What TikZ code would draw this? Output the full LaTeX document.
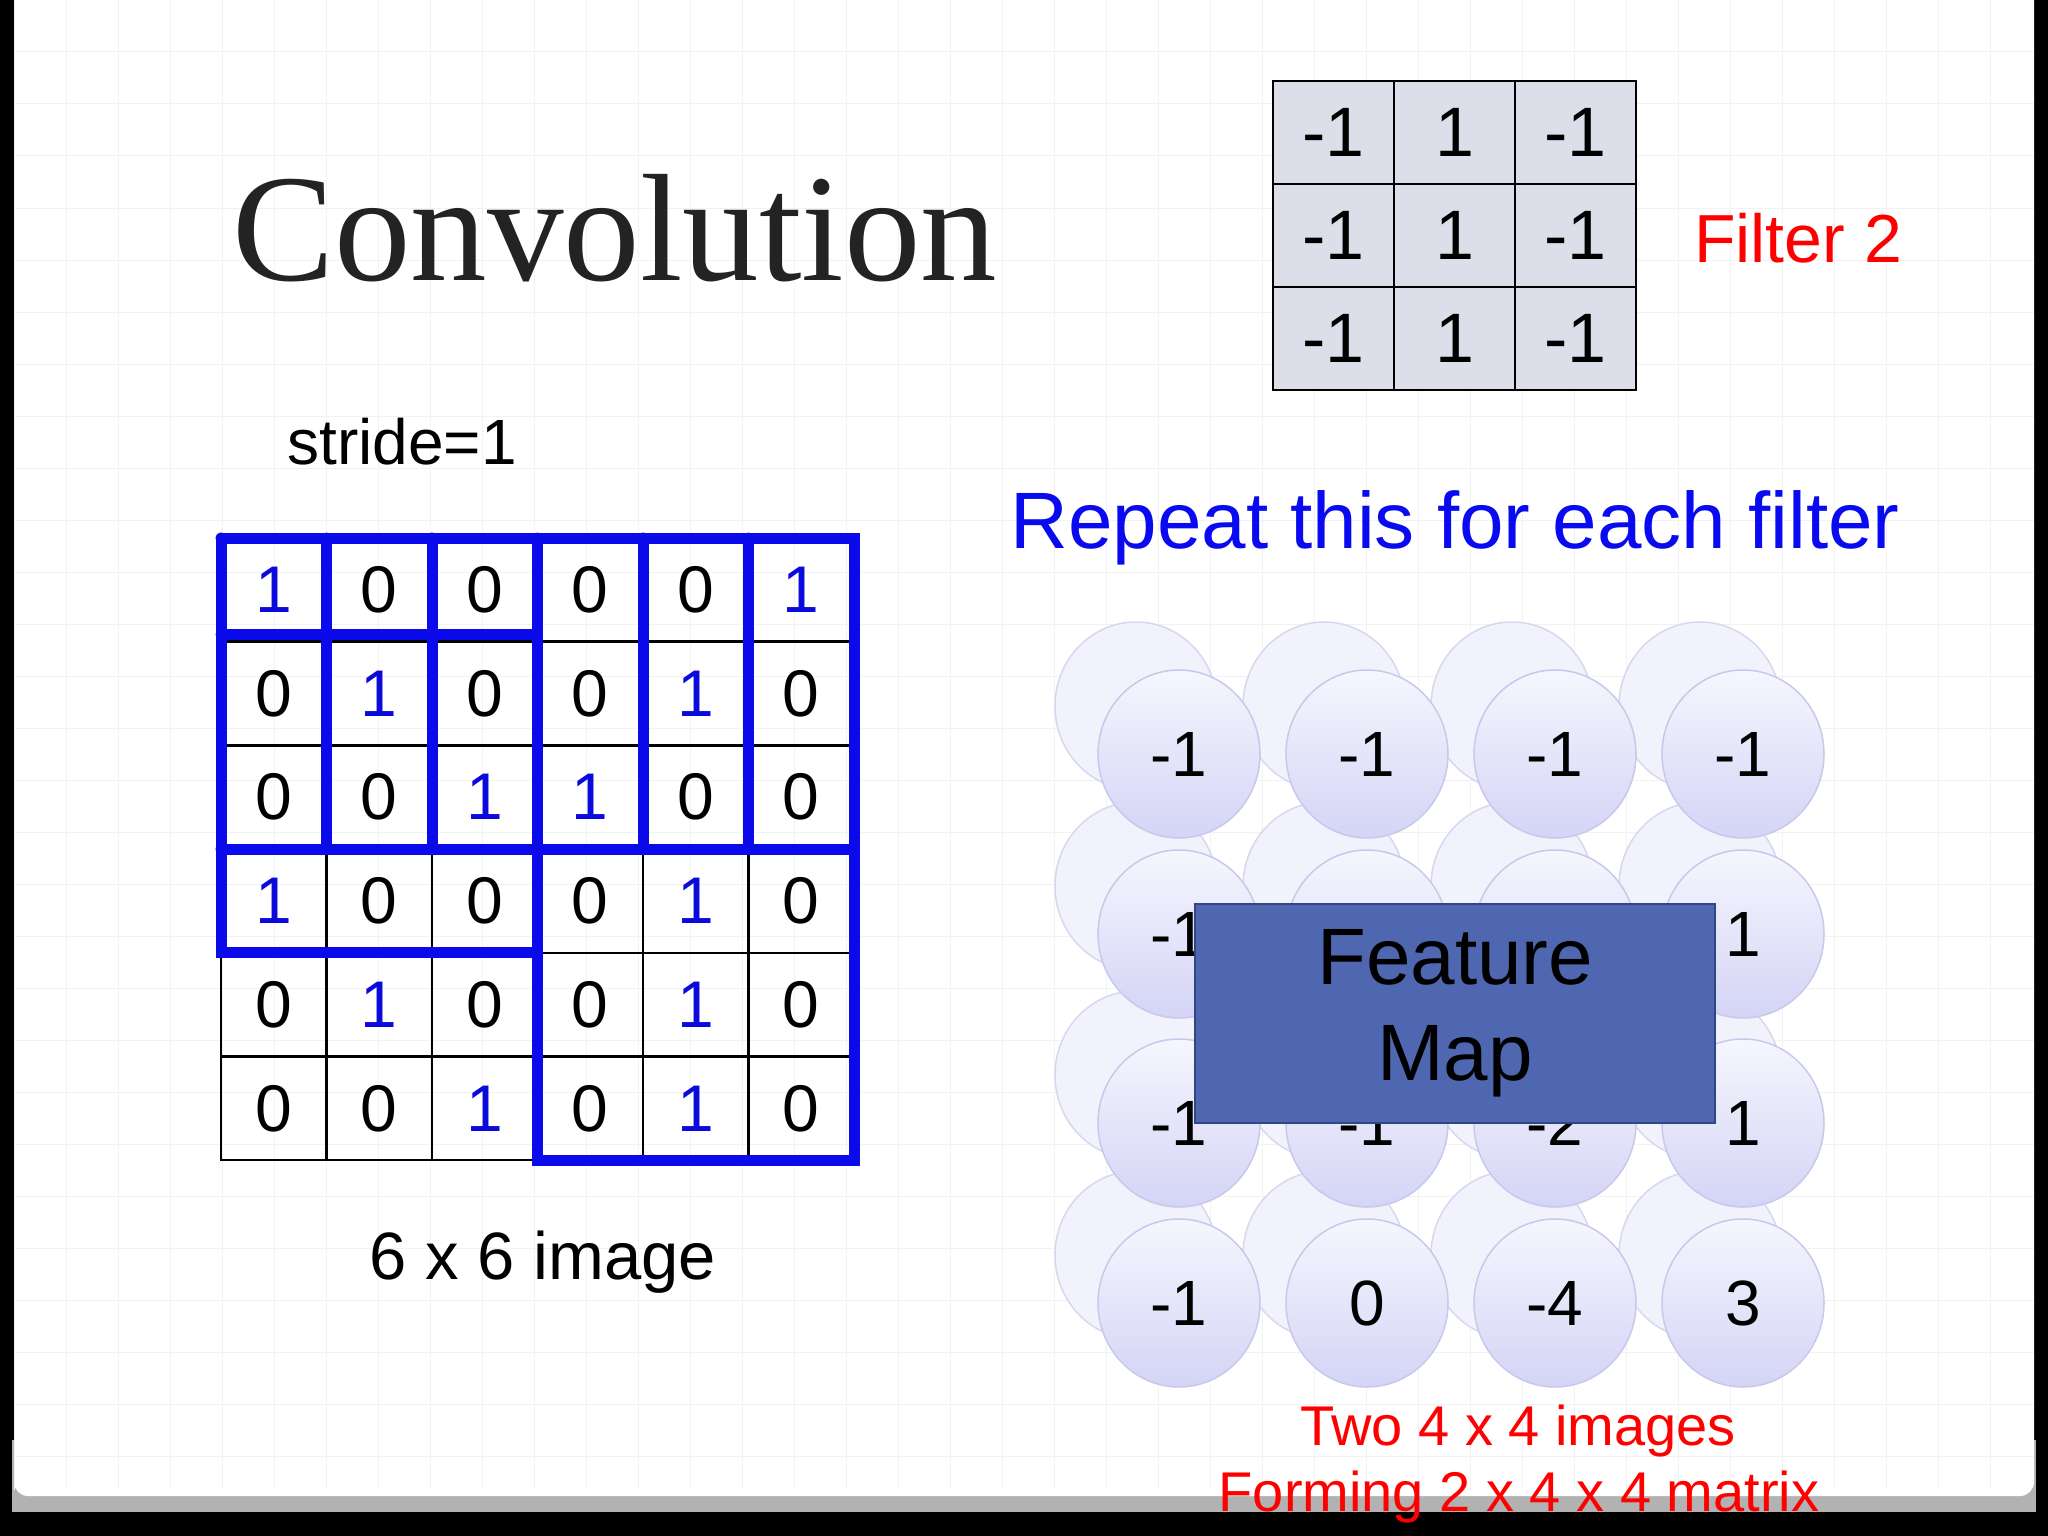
\documentclass[tikz,border=0pt]{standalone}
\usepackage{fontspec}
\usetikzlibrary{shapes.geometric}
\setmainfont{Liberation Sans}
\newfontfamily\serifconv{Liberation Serif}
\begin{document}
\begin{tikzpicture}[x=1pt,y=-1pt,
  blueline/.style={draw={rgb,255:red,10;green,10;blue,235},line width=11pt,line cap=round},
  cellbox/.style={draw=black,line width=2pt,minimum width=121pt,minimum height=103pt,inner sep=0pt,fill={rgb,255:red,220;green,223;blue,234},font=\fontsize{70}{70}\selectfont},
  gcell/.style={draw=black,line width=2.5pt,minimum width=105.5pt,minimum height=103.7pt,inner sep=0pt,font=\fontsize{66}{66}\selectfont},
  backc/.style={ellipse,minimum width=162pt,minimum height=168pt,draw={rgb,255:red,215;green,215;blue,240},line width=1.5pt,fill={rgb,255:red,242;green,242;blue,252}},
  frontc/.style={ellipse,minimum width=162pt,minimum height=168pt,draw={rgb,255:red,200;green,200;blue,236},line width=1.5pt,top color={rgb,255:red,246;green,246;blue,254},bottom color={rgb,255:red,212;green,212;blue,246},font=\fontsize{64}{64}\selectfont},
  ]
\useasboundingbox (0,0) rectangle (2048,1536);
\fill[black] (0,0) rectangle (2048,1536);
\fill[gray!60] (12,1440) rectangle (2036,1512);
\fill[white,rounded corners=14pt] (14,-20) rectangle (2034,1496);
\begin{scope}
\clip (14,0) rectangle (2034,1490);
\foreach \k in {0,...,39}{\draw[black!5,line width=1pt] ({14+52*\k},0) -- ({14+52*\k},1490);}
\foreach \k in {0,...,29}{\draw[black!5,line width=1pt] (14,{52*\k}) -- (2034,{52*\k});}
\end{scope}

% Title
\node[anchor=base west,inner sep=0pt,text={rgb,255:red,35;green,35;blue,35},font=\serifconv\fontsize{153}{153}\selectfont] (title) at (232,280) {Convolution};

% Filter
\foreach \r/\a/\b/\c in {0/-1/1/-1,1/-1/1/-1,2/-1/1/-1}{
  \node[cellbox] (f\r a) at (1333.5,{132.5+103*\r}) {\a};
  \node[cellbox] (f\r b) at (1454.5,{132.5+103*\r}) {\b};
  \node[cellbox] (f\r c) at (1575.5,{132.5+103*\r}) {\c};
}
\node[text=red,font=\fontsize{68}{68}\selectfont] (filt) at (1798,238) {Filter 2};

\node[font=\fontsize{64}{64}\selectfont] (stride) at (402,442) {stride=1};

% 6x6 grid
\def\gx{221}\def\gy{538}\def\cw{105.5}\def\ch{103.7}
\foreach \row [count=\i from 0] in {{1,0,0,0,0,1},{0,1,0,0,1,0},{0,0,1,1,0,0},{1,0,0,0,1,0},{0,1,0,0,1,0},{0,0,1,0,1,0}}{
  \foreach \v [count=\j from 0] in \row {
    \ifnum\v=1
      \node[gcell,text={rgb,255:red,10;green,10;blue,220}] (g\i\j) at ({\gx+\cw*(\j+0.5)},{\gy+\ch*(\i+0.5)}) {1};
    \else
      \node[gcell] (g\i\j) at ({\gx+\cw*(\j+0.5)},{\gy+\ch*(\i+0.5)}) {0};
    \fi
  }
}
% blue strokes
\draw[blueline] (\gx,\gy) -- ({\gx+6*\cw},\gy) -- ({\gx+6*\cw},{\gy+6*\ch}) -- ({\gx+3*\cw},{\gy+6*\ch}) -- ({\gx+3*\cw},\gy);
\draw[blueline] (\gx,\gy) -- (\gx,{\gy+4*\ch}) -- ({\gx+3*\cw},{\gy+4*\ch});
\draw[blueline] (\gx,{\gy+3*\ch}) -- ({\gx+6*\cw},{\gy+3*\ch});
\draw[blueline] (\gx,{\gy+0.93*\ch}) -- ({\gx+3*\cw},{\gy+0.93*\ch});
\foreach \c in {1,2,4,5}{
  \draw[blueline] ({\gx+\c*\cw},\gy) -- ({\gx+\c*\cw},{\gy+3*\ch});
}
\node[font=\fontsize{67}{67}\selectfont] (cap) at (543,1262) {6 x 6 image};

\node[text={rgb,255:red,10;green,10;blue,240},font=\fontsize{80}{80}\selectfont] (rep) at (1455,528) {Repeat this for each filter};

% circles
\foreach \x [count=\j from 0] in {1179,1367,1555,1743}{
  \foreach \y [count=\i from 0] in {754,934,1123,1303}{
    \node[backc] (b\i\j) at ({\x-43},{\y-48}) {};
  }
}
\foreach \y/\vals [count=\i from 0] in {754/{-1,-1,-1,-1},934/{-1,,,1},1123/{-1,-1,-2,1},1303/{-1,0,-4,3}}{
  \foreach \v [count=\j from 0] in \vals {
    \node[frontc] (c\i\j) at ({1179+188*\j},\y) {\v};
  }
}
\node[draw={rgb,255:red,50;green,70;blue,130},line width=2pt,fill={rgb,255:red,79;green,103;blue,176},minimum width=520pt,minimum height=219pt,align=center,font=\fontsize{80}{96}\selectfont] (fm) at (1455,1013.5) {Feature\\Map};

\node[text=red,font=\fontsize{56}{56}\selectfont] (t1) at (1518,1431) {Two 4 x 4 images};
\node[text=red,font=\fontsize{56}{56}\selectfont] (t2) at (1519,1497) {Forming 2 x 4 x 4 matrix};
\end{tikzpicture}
\end{document}
